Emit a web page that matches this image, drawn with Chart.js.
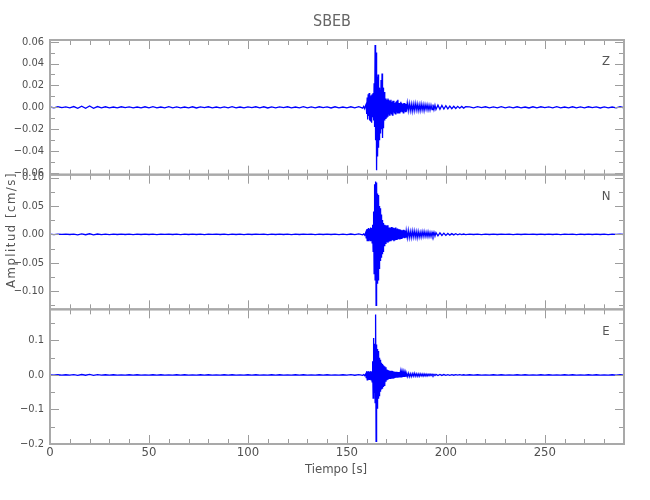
<!DOCTYPE html>
<html>
<head>
<meta charset="utf-8">
<script src="https://cdn.jsdelivr.net/npm/chart.js@4.4.1/dist/chart.umd.min.js"></script>
<style>
html,body{margin:0;padding:0;background:#ffffff;}
canvas{display:block;}
</style>
</head>
<body>
<canvas id="c" width="650" height="500"></canvas>
<script>
// ---------------- data ----------------
const estacion = 'SBEB';
const tituloX = 'Tiempo [s]';
const tituloY = 'Amplitud [cm/s]';

const tiempo = [
  0,2,4,6,8,10,12,14,16,18,
  20,22,24,26,28,30,32,34,36,38,
  40,42,44,46,48,50,52,54,56,58,
  60,62,64,66,68,70,72,74,76,78,
  80,82,84,86,88,90,92,94,96,98,
  100,102,104,106,108,110,112,114,116,118,
  120,122,124,126,128,130,132,134,136,138,
  140,142,144,146,148,150,152,154,156,158,
  158.5,159,159.5,
  159.75,160,160.25,160.5,160.75,161,161.25,161.5,
  161.75,162,162.25,162.5,162.75,163,163.25,163.5,
  163.75,164,164.25,164.5,164.75,165,165.25,165.5,
  165.75,166,166.25,166.5,166.75,167,167.25,167.5,
  167.75,168,168.25,168.5,168.75,169,169.25,169.5,
  169.75,170,170.25,170.5,170.75,171,171.25,171.5,
  171.75,172,172.25,172.5,172.75,173,173.25,173.5,
  173.75,174,174.25,174.5,174.75,175,175.25,175.5,
  175.75,176,176.25,176.5,176.75,177,177.25,177.5,
  177.75,178,178.25,178.5,178.75,179,179.25,179.5,
  179.75,180,
  180.5,181,181.5,182,182.5,183,183.5,184,184.5,185,
  185.5,186,186.5,187,187.5,188,188.5,189,189.5,190,
  190.5,191,191.5,192,192.5,193,193.5,194,194.5,195,
  196,197,198,199,200,201,202,203,204,205,206,207,208,209,210,
  212,214,216,218,220,222,224,226,228,230,
  232,234,236,238,240,242,244,246,248,250,
  252,254,256,258,260,262,264,266,268,270,
  272,274,276,278,280,282,284,286,288,290
];

const velZ = [
  0.0003,-0.0004,0.0005,-0.0003,0.0004,-0.0005,0.0007,-0.0009,0.0011,-0.0008,
  0.0012,-0.0009,0.0007,-0.0005,0.0005,-0.0004,0.0003,-0.0005,0.0005,-0.0003,
  0.0004,-0.0005,0.0003,-0.0005,0.0005,-0.0004,0.0006,-0.0004,0.0003,-0.0005,
  0.0006,-0.0004,0.0004,-0.0005,0.0003,-0.0004,0.0005,-0.0006,0.0004,-0.0003,
  0.0005,-0.0004,0.0003,-0.0005,0.0004,-0.0004,0.0006,-0.0005,0.0003,-0.0005,
  0.0004,-0.0003,0.0005,-0.0004,0.0005,-0.0006,0.0004,-0.0005,0.0004,-0.0003,
  0.0005,-0.0005,0.0003,-0.0004,0.0006,-0.0005,0.0004,-0.0004,0.0005,-0.0003,
  0.0004,-0.0006,0.0005,-0.0004,0.0003,-0.0005,0.0005,-0.0004,0.0006,-0.0007,
  0.0008,-0.0012,0.002,
  0.003,-0.006,0.009,-0.011,0.012,-0.008,0.013,-0.012,
  0.010,-0.013,0.011,-0.014,0.012,-0.009,0.013,-0.012,
  0.022,-0.018,0.057,-0.030,0.050,-0.0575,0.028,-0.045,
  0.030,-0.037,0.018,-0.030,0.016,-0.024,0.025,-0.020,
  0.031,-0.028,0.018,-0.019,0.014,-0.012,0.009,-0.010,
  0.008,-0.009,0.007,-0.008,0.008,-0.006,0.007,-0.007,
  0.006,-0.005,0.007,-0.006,0.005,-0.007,0.006,-0.004,
  0.006,-0.005,0.004,-0.006,0.005,-0.004,0.006,-0.005,
  0.007,-0.005,0.004,-0.005,0.004,-0.004,0.005,-0.003,
  0.004,-0.004,0.003,-0.005,0.004,-0.003,0.004,-0.004,
  0.003,-0.004,
  0.004,-0.003,0.0035,-0.003,0.003,-0.0035,0.003,-0.003,0.0035,-0.0025,
  0.003,-0.003,0.0025,-0.003,0.003,-0.0025,0.0025,-0.003,0.0025,-0.002,
  0.0025,-0.0025,0.002,-0.0025,0.002,-0.002,0.0025,-0.002,0.002,-0.002,
  0.002,-0.0018,0.0018,-0.0015,0.0015,-0.0014,0.0012,-0.0012,0.001,-0.001,0.0009,-0.0008,0.0008,-0.0007,0.0006,
  0.0005,-0.0004,0.0006,-0.0003,0.0005,-0.0005,0.0004,-0.0005,0.0006,-0.0004,
  0.0004,-0.0005,0.0005,-0.0004,0.0003,-0.0006,0.0005,-0.0004,0.0005,-0.0003,
  0.0004,-0.0005,0.0006,-0.0005,0.0003,-0.0004,0.0005,-0.0005,0.0004,-0.0004,
  0.0005,-0.0003,0.0004,-0.0006,0.0004,-0.0005,0.0003,-0.0005,0.0005,-0.0004
];

const velN = [
  0.0003,-0.0004,0.0003,-0.0002,0.0004,-0.0003,0.0005,-0.0008,0.0009,-0.0007,
  0.0010,-0.0008,0.0006,-0.0004,0.0003,-0.0004,0.0003,-0.0003,0.0004,-0.0003,
  0.0003,-0.0004,0.0002,-0.0003,0.0004,-0.0003,0.0003,-0.0004,0.0003,-0.0002,
  0.0004,-0.0003,0.0003,-0.0004,0.0002,-0.0003,0.0004,-0.0003,0.0003,-0.0004,
  0.0003,-0.0002,0.0004,-0.0003,0.0003,-0.0004,0.0003,-0.0003,0.0002,-0.0004,
  0.0003,-0.0003,0.0004,-0.0002,0.0003,-0.0004,0.0003,-0.0003,0.0004,-0.0003,
  0.0002,-0.0004,0.0003,-0.0003,0.0004,-0.0002,0.0003,-0.0004,0.0003,-0.0003,
  0.0004,-0.0003,0.0003,-0.0004,0.0003,-0.0005,0.0006,-0.0005,0.0007,-0.0008,
  0.0008,-0.0015,0.003,
  -0.006,0.009,-0.011,0.010,-0.011,0.011,-0.009,0.010,
  -0.011,0.012,-0.010,0.011,-0.015,0.017,-0.030,0.040,
  -0.069,0.088,-0.080,0.093,-0.125,0.091,-0.086,0.072,
  -0.080,0.069,-0.060,0.050,-0.046,0.046,-0.040,0.035,
  -0.034,0.025,-0.030,0.020,-0.020,0.017,-0.018,0.016,
  -0.017,0.015,-0.014,0.016,-0.015,0.012,-0.013,0.012,
  -0.012,0.011,-0.012,0.013,-0.011,0.012,-0.010,0.011,
  -0.012,0.010,-0.011,0.012,-0.010,0.009,-0.010,0.010,
  -0.009,0.009,-0.008,0.009,-0.009,0.008,-0.008,0.007,
  -0.008,0.007,-0.007,0.008,-0.006,0.007,-0.007,0.006,
  -0.006,0.006,
  -0.006,0.007,-0.006,0.005,-0.006,0.006,-0.005,0.006,-0.005,0.005,
  -0.006,0.005,-0.005,0.004,-0.005,0.005,-0.004,0.005,-0.004,0.004,
  -0.004,0.0045,-0.004,0.0035,-0.004,0.0035,-0.003,0.0035,-0.003,0.003,
  -0.0025,0.0025,-0.002,0.002,-0.0018,0.0015,-0.0014,0.0012,-0.001,0.001,-0.0008,0.0007,-0.0006,0.0005,-0.0004,
  0.0004,-0.0003,0.0003,-0.0004,0.0002,-0.0003,0.0004,-0.0003,0.0003,-0.0002,
  0.0003,-0.0004,0.0003,-0.0003,0.0004,-0.0002,0.0003,-0.0003,0.0004,-0.0003,
  0.0002,-0.0003,0.0004,-0.0004,0.0003,-0.0002,0.0003,-0.0004,0.0003,-0.0003,
  0.0004,-0.0003,0.0002,-0.0003,0.0003,-0.0004,0.0003,-0.0002,0.0003,-0.0003
];

const velE = [
  0.0004,-0.0005,0.0006,-0.0004,0.0005,-0.0006,0.0008,-0.0010,0.0012,-0.0009,
  0.0015,-0.0012,0.0008,-0.0006,0.0005,-0.0004,0.0006,-0.0005,0.0004,-0.0006,
  0.0005,-0.0004,0.0006,-0.0005,0.0004,-0.0006,0.0005,-0.0004,0.0006,-0.0005,
  0.0004,-0.0005,0.0006,-0.0004,0.0005,-0.0006,0.0004,-0.0005,0.0006,-0.0004,
  0.0005,-0.0006,0.0004,-0.0005,0.0006,-0.0004,0.0005,-0.0006,0.0004,-0.0005,
  0.0006,-0.0004,0.0005,-0.0006,0.0004,-0.0005,0.0006,-0.0004,0.0005,-0.0006,
  0.0004,-0.0005,0.0006,-0.0004,0.0005,-0.0006,0.0004,-0.0005,0.0006,-0.0004,
  0.0005,-0.0006,0.0004,-0.0005,0.0006,-0.0008,0.0007,-0.0009,0.0010,-0.0012,
  0.001,-0.002,0.003,
  -0.008,0.011,-0.014,0.010,-0.012,0.011,-0.013,0.009,
  -0.012,0.011,-0.014,0.010,-0.020,0.040,-0.067,0.107,
  -0.050,0.090,-0.080,0.175,-0.192,0.088,-0.096,0.075,
  -0.067,0.069,-0.060,0.050,-0.047,0.044,-0.040,0.035,
  -0.038,0.032,-0.033,0.028,-0.030,0.025,-0.028,0.022,
  -0.020,0.016,-0.015,0.014,-0.014,0.013,-0.012,0.012,
  -0.012,0.011,-0.012,0.012,-0.010,0.011,-0.011,0.010,
  -0.010,0.009,-0.009,0.009,-0.008,0.009,-0.008,0.008,
  -0.008,0.008,-0.007,0.008,-0.007,0.007,-0.007,0.006,
  -0.007,0.006,-0.006,0.006,-0.006,0.005,-0.006,0.005,
  -0.005,0.005,
  -0.005,0.005,-0.005,0.004,-0.005,0.004,-0.004,0.005,-0.004,0.004,
  -0.004,0.0035,-0.004,0.0035,-0.003,0.003,-0.0035,0.003,-0.003,0.003,
  -0.003,0.0025,-0.0025,0.0025,-0.002,0.002,-0.0022,0.002,-0.0018,0.0018,
  -0.0016,0.0015,-0.0014,0.0012,-0.0012,0.001,-0.001,0.0009,-0.0008,0.0007,-0.0007,0.0006,-0.0006,0.0005,-0.0005,
  0.0005,-0.0004,0.0006,-0.0005,0.0004,-0.0006,0.0005,-0.0004,0.0006,-0.0005,
  0.0004,-0.0005,0.0006,-0.0004,0.0005,-0.0006,0.0004,-0.0005,0.0006,-0.0004,
  0.0005,-0.0006,0.0004,-0.0005,0.0006,-0.0004,0.0005,-0.0006,0.0004,-0.0005,
  0.0006,-0.0004,0.0005,-0.0006,0.0004,-0.0005,0.0006,-0.0004,0.0005,-0.0006
];

const ticksX = [0, 50, 100, 150, 200, 250];
const ticksZ = [-0.06, -0.04, -0.02, 0, 0.02, 0.04, 0.06];
const ticksN = [-0.10, -0.05, 0, 0.05, 0.10];
const ticksE = [-0.2, -0.1, 0, 0.1];
const rangoX = [0, 290];
const rangoZ = [-0.0615, 0.0615];
const rangoN = [-0.132, 0.105];
const rangoE = [-0.2, 0.19];

// ---------------- chart ----------------
const FUENTE = '"Liberation Sans Narrow", "DejaVu Sans Condensed", "Roboto Condensed", "Liberation Sans", sans-serif';
const AZUL = '#0000ff';
const fmt = (v, d) => (v < -1e-12 ? '\u2212' : '') + Math.abs(v).toFixed(d);

const paneles = [
  {id: 'yZ', comp: 'Z', vals: velZ, ticks: ticksZ, rango: rangoZ, dec: 2},
  {id: 'yN', comp: 'N', vals: velN, ticks: ticksN, rango: rangoN, dec: 2},
  {id: 'yE', comp: 'E', vals: velE, ticks: ticksE, rango: rangoE, dec: 1}
];

function escalaY(p) {
  return {
    type: 'linear',
    position: 'left',
    stack: 'sismo',
    stackWeight: 1,
    min: p.rango[0],
    max: p.rango[1],
    grid: {display: false, drawTicks: false},
    border: {display: false},
    afterBuildTicks: (s) => { s.ticks = p.ticks.map(v => ({value: v})); },
    afterFit: (s) => { s.width = 50; },
    ticks: {
      padding: 6,
      autoSkip: false,
      color: '#505050',
      font: {family: FUENTE, size: 11},
      callback: (v) => fmt(v, p.dec)
    }
  };
}

const marcoPaneles = {
  id: 'marcoPaneles',
  afterDraw(chart) {
    const {ctx, chartArea: ca, scales} = chart;
    const sx = scales.x;
    ctx.save();
    paneles.forEach((p) => {
      const s = scales[p.id];
      const top = s.top, bot = s.bottom;
      ctx.strokeStyle = '#9c9c9c';
      ctx.lineWidth = 1;
      ctx.beginPath();
      for (let k = 0; k <= 29; k++) {
        const px = Math.round(sx.getPixelForValue(k * 10)) + 0.5;
        const L = (k % 5 === 0) ? 9 : 5;
        ctx.moveTo(px, top); ctx.lineTo(px, top + L);
        ctx.moveTo(px, bot); ctx.lineTo(px, bot - L);
      }
      const d = p.ticks[1] - p.ticks[0];
      for (let k = -2; k <= 2 * p.ticks.length + 2; k++) {
        const v = p.ticks[0] + k * d / 2;
        if (v < s.min - 1e-9 || v > s.max + 1e-9) continue;
        const py = Math.round(s.getPixelForValue(v)) + 0.5;
        const L = (k % 2 === 0) ? 9 : 5;
        ctx.moveTo(ca.left, py); ctx.lineTo(ca.left + L, py);
        ctx.moveTo(ca.right, py); ctx.lineTo(ca.right - L, py);
      }
      ctx.stroke();
      ctx.lineWidth = 2;
      ctx.strokeStyle = '#a9a9a9';
      ctx.strokeRect(ca.left, top, ca.right - ca.left, bot - top);
      ctx.fillStyle = '#555555';
      ctx.font = '13px ' + FUENTE;
      ctx.textAlign = 'center';
      ctx.textBaseline = 'middle';
      ctx.fillText(p.comp, ca.right - 18, top + 22);
    });
    ctx.fillStyle = '#666666';
    ctx.font = '16px ' + FUENTE;
    ctx.textAlign = 'center';
    ctx.textBaseline = 'middle';
    ctx.fillText(estacion, 332, 22);
    ctx.fillStyle = '#555555';
    ctx.font = '13px ' + FUENTE;
    ctx.fillText(tituloX, 336, 470);
    ctx.save();
    ctx.translate(12, 230);
    ctx.rotate(-Math.PI / 2);
    try { ctx.letterSpacing = '1.5px'; } catch (e) {}
    ctx.fillText(tituloY, 0, 0);
    ctx.restore();
    ctx.restore();
  }
};

const serie = (vals) => tiempo.map((t, i) => ({x: t, y: vals[i]}));

new Chart(document.getElementById('c').getContext('2d'), {
  type: 'line',
  data: {
    datasets: paneles.map(p => ({
      label: p.comp,
      data: serie(p.vals),
      yAxisID: p.id,
      borderColor: AZUL,
      borderWidth: 1.3,
      pointRadius: 0,
      tension: 0,
      fill: false
    }))
  },
  options: {
    responsive: false,
    animation: false,
    events: [],
    layout: {padding: {top: 40, right: 26, left: 0, bottom: 0}},
    plugins: {legend: {display: false}, tooltip: {enabled: false}, title: {display: false}},
    scales: {
      x: {
        type: 'linear',
        min: rangoX[0],
        max: rangoX[1],
        grid: {display: false, drawTicks: false},
        border: {display: false},
        afterBuildTicks: (s) => { s.ticks = ticksX.map(v => ({value: v})); },
        afterFit: (s) => { s.height = 56; },
        ticks: {
          padding: 1,
          autoSkip: false,
          maxRotation: 0,
          color: '#505050',
          font: {family: FUENTE, size: 13},
          callback: (v) => String(v)
        }
      },
      yE: escalaY(paneles[2]),
      yN: escalaY(paneles[1]),
      yZ: escalaY(paneles[0])
    }
  },
  plugins: [marcoPaneles]
});
</script>
</body>
</html>
